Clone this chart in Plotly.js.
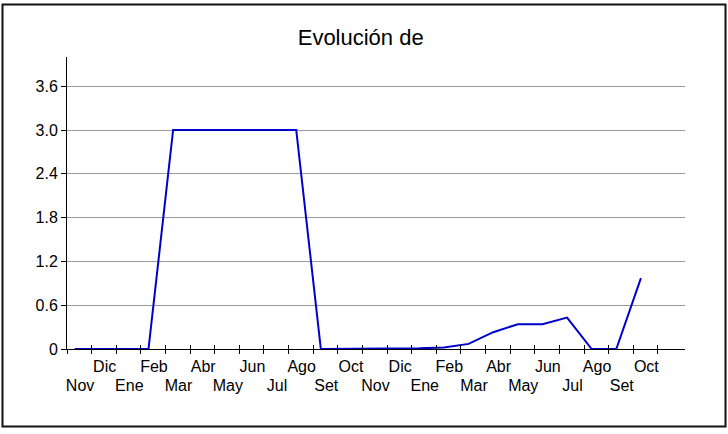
<!DOCTYPE html>
<html><head><meta charset="utf-8">
<script src="https://cdn.plot.ly/plotly-3.0.1.min.js"></script>
<style>html,body{margin:0;padding:0;background:#fff}#chart{width:728px;height:434px}</style>
</head><body><div id="chart"></div>
<script>
const months = ["Nov","Dic","Ene","Feb","Mar","Abr","May","Jun","Jul","Ago","Set","Oct",
                "Nov","Dic","Ene","Feb","Mar","Abr","May","Jun","Jul","Ago","Set","Oct"];
const values = [0,0,0,0,3,3,3,3,3,3,0,0,
                0,0,0.01,0.02,0.07,0.23,0.34,0.34,0.43,0,0,0.97];
const yTickVals = [0,0.6,1.2,1.8,2.4,3.0,3.6];
const yTickText = ["0","0.6","1.2","1.8","2.4","3.0","3.6"];
const chartTitle = "Evolución de";

const idx = months.map((m,i)=>i);
const xRange = [-0.31, 24.79];
const tickMarks = [];
for (let i = 0; i <= months.length; i++) tickMarks.push(i - 0.31);
const oddPos = [], oddText = [], evenPos = [], evenText = [];
months.forEach((m,i)=>{ if (i%2) {oddPos.push(i+0.22); oddText.push(m);} else {evenPos.push(i+0.22); evenText.push(m);} });

const font = {family: "Liberation Sans, Arial, sans-serif", size: 16, color: "#000"};
const W = 728, H = 434, L = 67, R = 685, T = 57, B = 349;
const px = v => (v - L) / (R - L);
const py = v => (B - v) / (B - T);

const traces = [
  {type:"scatter", mode:"lines", x: idx, y: values, xaxis:"x", yaxis:"y",
   line:{color:"#0000cc", width:2}, hoverinfo:"skip", showlegend:false},
  {type:"scatter", mode:"lines", x:[], y:[], xaxis:"x2", yaxis:"y", showlegend:false, hoverinfo:"skip"},
  {type:"scatter", mode:"lines", x:[], y:[], xaxis:"x3", yaxis:"y", showlegend:false, hoverinfo:"skip"},
  {type:"scatter", mode:"lines", x:[], y:[], xaxis:"x4", yaxis:"y", showlegend:false, hoverinfo:"skip"}
];

const baseX = {range: xRange, showgrid:false, zeroline:false, fixedrange:true, anchor:"y"};
const layout = {
  width: W, height: H,
  margin: {l: L, r: W - R, t: T, b: H - B, pad: 0},
  paper_bgcolor: "#fff", plot_bgcolor: "#fff",
  font: font,
  showlegend: false,
  title: {text: chartTitle, font: {family: font.family, size: 22, color: "#000"},
          x: 360.7 / W, xref: "container", xanchor: "center",
          y: 1 - 37.5 / H, yref: "container", yanchor: "middle"},
  xaxis: Object.assign({}, baseX, {showline:true, linecolor:"#000", linewidth:1,
          ticks:"outside", ticklen:4, tickcolor:"#000", tickwidth:1,
          tickmode:"array", tickvals: tickMarks, showticklabels:false}),
  xaxis2: Object.assign({}, baseX, {overlaying:"x", showline:false,
          ticks:"inside", ticklen:4, tickcolor:"#000", tickwidth:1,
          tickmode:"array", tickvals: tickMarks, showticklabels:false}),
  xaxis3: Object.assign({}, baseX, {overlaying:"x", showline:false, ticks:"",
          tickmode:"array", tickvals: oddPos, ticktext: oddText, tickangle:0,
          ticklabelstandoff: 6, tickfont: font}),
  xaxis4: Object.assign({}, baseX, {overlaying:"x", showline:false, ticks:"",
          tickmode:"array", tickvals: evenPos, ticktext: evenText, tickangle:0,
          ticklabelstandoff: 25, tickfont: font}),
  yaxis: {range:[0,4.0], fixedrange:true, zeroline:false,
          showline:true, linecolor:"#000", linewidth:1,
          showgrid:true, gridcolor:"#9a9a9a", gridwidth:1,
          ticks:"outside", ticklen:5, tickcolor:"#000",
          tickmode:"array", tickvals: yTickVals, ticktext: yTickText, tickfont: font},
  shapes: [{type:"rect", xref:"paper", yref:"paper",
            x0: px(2.5), x1: px(725.5), y0: py(426.5), y1: py(4.5),
            line:{color:"#111", width:2}, fillcolor:"rgba(0,0,0,0)", layer:"below"}]
};
Plotly.newPlot("chart", traces, layout, {displayModeBar:false, staticPlot:true});
</script>
</body></html>
